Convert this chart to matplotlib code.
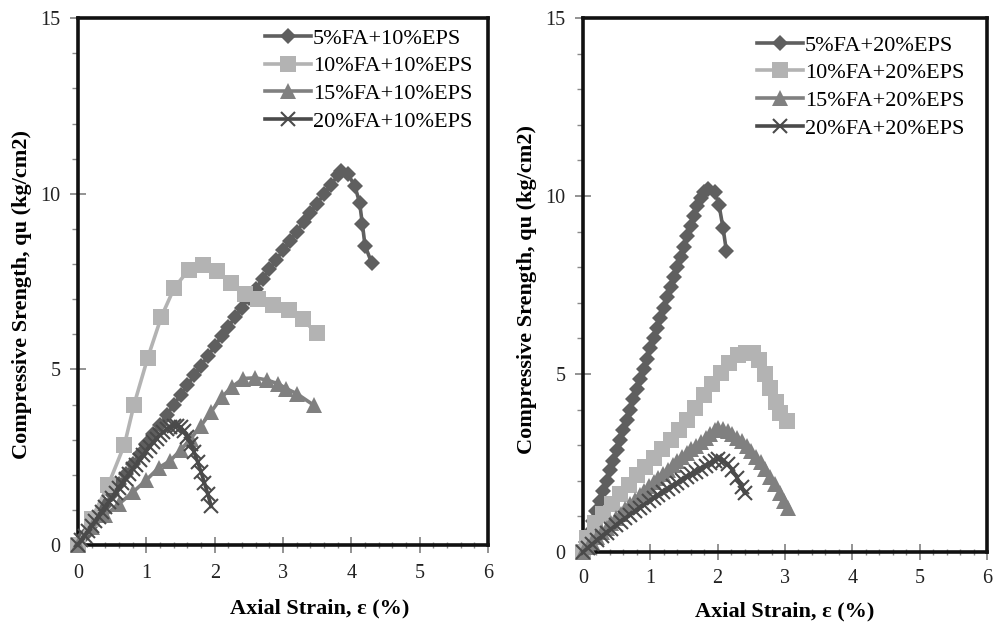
import matplotlib
matplotlib.use("Agg")
import matplotlib.pyplot as plt
from matplotlib.ticker import MultipleLocator

plt.rcParams['font.family'] = ['Liberation Serif', 'DejaVu Serif']

# ---------------- Left panel data (10% EPS) ----------------
left_labels = ["5%FA+10%EPS", "10%FA+10%EPS", "15%FA+10%EPS", "20%FA+10%EPS"]

L1_x = [0, 0.1, 0.2, 0.3, 0.4, 0.5, 0.6, 0.7, 0.8, 0.9, 1.0, 1.1, 1.2, 1.3, 1.4,
        1.5, 1.6, 1.7, 1.8, 1.9, 2.0, 2.1, 2.2, 2.3, 2.4, 2.5, 2.6, 2.7, 2.8, 2.9,
        3.0, 3.1, 3.2, 3.3, 3.4, 3.5, 3.6, 3.7, 3.8, 3.85, 3.95, 4.05, 4.12, 4.16,
        4.2, 4.3]
L1_y = [0, 0.29, 0.58, 0.87, 1.15, 1.44, 1.73, 2.01, 2.30, 2.58, 2.87, 3.15, 3.43,
        3.71, 3.99, 4.27, 4.55, 4.83, 5.11, 5.38, 5.66, 5.94, 6.21, 6.49, 6.76, 7.03,
        7.30, 7.57, 7.85, 8.12, 8.39, 8.65, 8.92, 9.19, 9.46, 9.72, 9.99, 10.25, 10.52,
        10.65, 10.56, 10.22, 9.75, 9.15, 8.52, 8.02]

L2_x = [0, 0.2, 0.44, 0.68, 0.82, 1.02, 1.22, 1.41, 1.62, 1.83, 2.03, 2.24, 2.45,
        2.64, 2.86, 3.08, 3.29, 3.49]
L2_y = [0, 0.75, 1.7, 2.86, 4.0, 5.33, 6.5, 7.33, 7.83, 7.98, 7.8, 7.45, 7.15,
        7.0, 6.82, 6.68, 6.42, 6.03]

L3_x = [0, 0.2, 0.4, 0.6, 0.8, 1.0, 1.18, 1.35, 1.5, 1.65, 1.8, 1.95, 2.1, 2.25,
        2.42, 2.59, 2.76, 2.93, 3.05, 3.2, 3.45]
L3_y = [0, 0.5, 0.85, 1.17, 1.5, 1.85, 2.2, 2.4, 2.7, 3.03, 3.4, 3.8, 4.2, 4.5,
        4.74, 4.76, 4.7, 4.59, 4.45, 4.31, 3.98]

L4_x = [0, 0.05, 0.1, 0.15, 0.2, 0.25, 0.3, 0.35, 0.4, 0.45, 0.5, 0.55, 0.6, 0.65,
        0.7, 0.75, 0.8, 0.85, 0.9, 0.95, 1.0, 1.05, 1.1, 1.15, 1.2, 1.25, 1.3, 1.35,
        1.4, 1.45, 1.5, 1.55, 1.6, 1.65, 1.7, 1.75, 1.8, 1.85, 1.9, 1.95]
L4_y = [0, 0.14, 0.27, 0.41, 0.54, 0.68, 0.81, 0.95, 1.08, 1.22, 1.35, 1.49, 1.62,
        1.76, 1.89, 2.03, 2.16, 2.29, 2.42, 2.55, 2.68, 2.8, 2.92, 3.03, 3.13, 3.22,
        3.3, 3.36, 3.4, 3.4, 3.35, 3.24, 3.08, 2.88, 2.64, 2.37, 2.08, 1.77, 1.44, 1.1]

# ---------------- Right panel data (20% EPS) ----------------
right_labels = ["5%FA+20%EPS", "10%FA+20%EPS", "15%FA+20%EPS", "20%FA+20%EPS"]

R1_x = [0, 0.05, 0.1, 0.15, 0.2, 0.25, 0.3, 0.35, 0.4, 0.45, 0.5, 0.55, 0.6, 0.65,
        0.7, 0.75, 0.8, 0.85, 0.9, 0.95, 1.0, 1.05, 1.1, 1.15, 1.2, 1.25, 1.3, 1.35,
        1.4, 1.45, 1.5, 1.55, 1.6, 1.65, 1.7, 1.75, 1.8, 1.86, 1.96, 2.02, 2.08, 2.13]
R1_y = [0, 0.29, 0.57, 0.86, 1.14, 1.43, 1.72, 2.0, 2.29, 2.57, 2.86, 3.15, 3.43,
        3.72, 4.0, 4.29, 4.58, 4.86, 5.15, 5.43, 5.72, 6.01, 6.29, 6.58, 6.86, 7.15,
        7.44, 7.72, 8.01, 8.29, 8.58, 8.87, 9.15, 9.44, 9.72, 9.95, 10.12, 10.2,
        10.1, 9.75, 9.1, 8.45]

R2_x = [0, 0.06, 0.18, 0.3, 0.43, 0.55, 0.68, 0.8, 0.92, 1.05, 1.17, 1.3, 1.42, 1.55,
        1.67, 1.8, 1.92, 2.05, 2.17, 2.3, 2.42, 2.53, 2.62, 2.7, 2.78, 2.86, 2.93, 3.03]
R2_y = [0, 0.4, 0.82, 1.08, 1.36, 1.62, 1.88, 2.15, 2.4, 2.65, 2.9, 3.15, 3.42, 3.72,
        4.05, 4.4, 4.72, 5.03, 5.3, 5.52, 5.6, 5.58, 5.38, 5.0, 4.6, 4.2, 3.9, 3.68]

R3_x = [0, 0.07, 0.14, 0.21, 0.28, 0.35, 0.42, 0.49, 0.56, 0.63, 0.7, 0.77, 0.84,
        0.91, 0.98, 1.05, 1.12, 1.19, 1.26, 1.33, 1.4, 1.47, 1.54, 1.61, 1.68, 1.75,
        1.82, 1.89, 1.96, 2.01, 2.08, 2.15, 2.22, 2.29, 2.36, 2.43, 2.5, 2.57, 2.64,
        2.71, 2.78, 2.85, 2.92, 2.99, 3.05]
R3_y = [0, 0.14, 0.28, 0.41, 0.55, 0.68, 0.82, 0.95, 1.08, 1.21, 1.34, 1.46, 1.59,
        1.71, 1.84, 1.96, 2.08, 2.2, 2.31, 2.43, 2.55, 2.66, 2.77, 2.88, 2.99, 3.1,
        3.2, 3.32, 3.43, 3.48, 3.46, 3.4, 3.31, 3.2, 3.12, 2.98, 2.85, 2.68, 2.52,
        2.33, 2.12, 1.9, 1.67, 1.43, 1.25]

R4_x = [0, 0.07, 0.14, 0.21, 0.28, 0.35, 0.42, 0.49, 0.56, 0.63, 0.7, 0.77, 0.84,
        0.91, 0.98, 1.05, 1.12, 1.19, 1.26, 1.33, 1.4, 1.47, 1.54, 1.61, 1.68, 1.75,
        1.82, 1.89, 1.96, 2.01, 2.08, 2.15, 2.22, 2.29, 2.36, 2.4]
R4_y = [0, 0.11, 0.22, 0.33, 0.44, 0.54, 0.65, 0.75, 0.85, 0.95, 1.05, 1.14, 1.24,
        1.33, 1.42, 1.51, 1.6, 1.69, 1.78, 1.86, 1.95, 2.03, 2.11, 2.19, 2.26, 2.34,
        2.42, 2.49, 2.56, 2.6, 2.57, 2.47, 2.3, 2.08, 1.82, 1.65]

x_ticks = [0, 1, 2, 3, 4, 5, 6]
y_ticks = [0, 5, 10, 15]
x_label = "Axial Strain, \u03b5 (%)"
y_label = "Compressive Srength, qu (kg/cm2)"

colors = ['#5f5f5f', '#b3b3b3', '#808080', '#4a4a4a']
styles = [dict(marker='D', ms=8.5, mew=0),
          dict(marker='s', ms=11.5, mew=0),
          dict(marker='^', ms=11.5, mew=0),
          dict(marker='x', ms=10, mew=1.5)]

fig = plt.figure(figsize=(9.94, 6.25), dpi=100)
axL = fig.add_axes([0.0785, 0.128, 0.4125, 0.843])
axR = fig.add_axes([0.5865, 0.1168, 0.4065, 0.8544])

panels = [
    (axL, [(L1_x, L1_y), (L2_x, L2_y), (L3_x, L3_y), (L4_x, L4_y)], left_labels,
     ((265 - 78) / 410, (545 - 28) / 527), (0.59, -0.12), (-0.137, 0.476), 8),
    (axR, [(R1_x, R1_y), (R2_x, R2_y), (R3_x, R3_y), (R4_x, R4_y)], right_labels,
     ((757 - 583) / 404, (552 - 35) / 534), (0.5, -0.112), (-0.139, 0.4925), 7),
]

for ax, series, labels, leg_anchor, xl_pos, yl_pos, xpad in panels:
    for (xs, ys), lab, c, st in zip(series, labels, colors, styles):
        ax.plot(xs, ys, color=c, lw=2.6, label=lab, mfc=c, mec=c,
                clip_on=False, zorder=3, **st)
    ax.set_xlim(0, 6)
    ax.set_ylim(0, 15)
    ax.set_xticks(x_ticks)
    ax.set_yticks(y_ticks)
    ax.xaxis.set_minor_locator(MultipleLocator(0.2))
    ax.yaxis.set_minor_locator(MultipleLocator(1))
    for s in ax.spines.values():
        s.set_color('#111111')
        s.set_linewidth(2.6)
    ax.tick_params(axis='x', which='major', direction='inout', length=11, width=1.3,
                   color='#8a8a8a', labelsize=14.5, pad=xpad, labelcolor='#222222')
    ax.tick_params(axis='x', which='minor', direction='inout', length=5, width=1.0,
                   color='#8a8a8a')
    ax.tick_params(axis='y', which='major', direction='inout', length=11, width=1.3,
                   color='#8a8a8a', labelsize=14.5, pad=7, labelcolor='#222222')
    ax.tick_params(axis='y', which='minor', direction='out', length=4, width=1.0,
                   color='#8a8a8a')
    ax.set_xlabel(x_label, fontsize=16, fontweight='bold')
    ax.set_ylabel(y_label, fontsize=16, fontweight='bold')
    ax.xaxis.set_label_coords(*xl_pos)
    ax.yaxis.set_label_coords(*yl_pos)
    ax.xaxis.label.set_va('center')
    ax.yaxis.label.set_va('center')
    ax.legend(loc='upper left', bbox_to_anchor=leg_anchor, frameon=False,
              fontsize=16, numpoints=1, handlelength=2.05, handletextpad=0.1,
              labelspacing=0.32, borderpad=0, borderaxespad=0)

fig.savefig("out.png", dpi=100)
